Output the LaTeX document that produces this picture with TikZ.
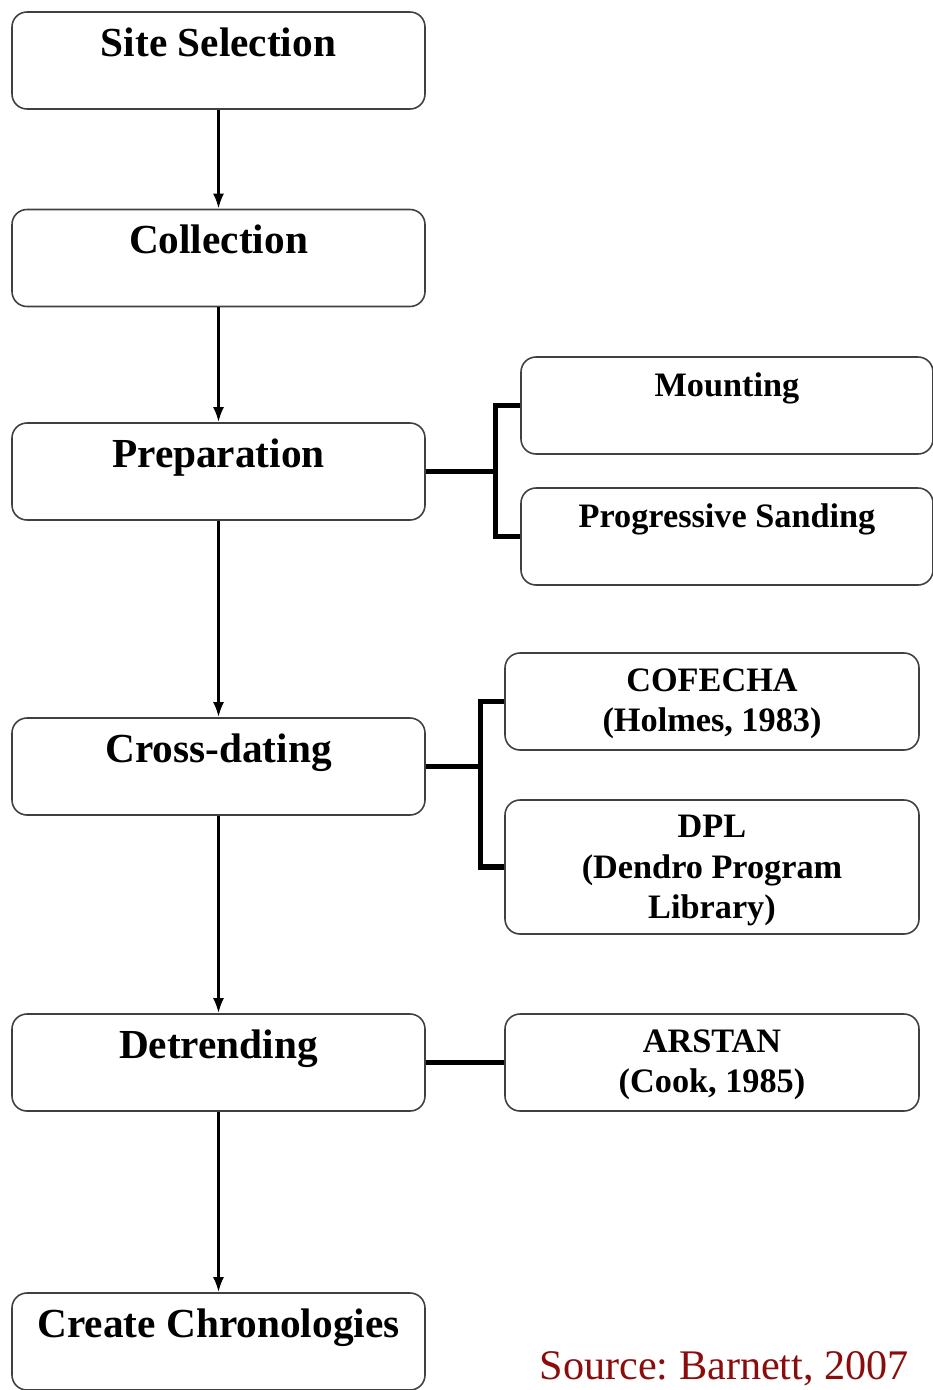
\documentclass[tikz,border=0pt]{standalone}
\usepackage{fontspec}
\setmainfont{Liberation Serif}
\usepackage{xcolor}
\usetikzlibrary{arrows.meta}
\definecolor{sourcered}{RGB}{140,12,12}
\frenchspacing

\begin{document}
\begin{tikzpicture}[
			stage/.style={draw=black!75, line width=0.9pt, rounded corners=0.3cm,
				minimum width=8.26cm, minimum height=1.94cm, inner sep=0pt},
			stagetext/.style={anchor=north, yshift=-0.2cm, font=\fontsize{23.5}{27}\selectfont\bfseries},
			tooltext/.style={anchor=north, yshift=-0.2cm, align=center, font=\fontsize{19.5}{23}\selectfont\bfseries},
			flow/.style={-{Latex[length=3mm, width=2.2mm]}, line width=1.5pt},
			branch/.style={line width=3pt}
		]
			\useasboundingbox (0,0) rectangle (18.66,-27.8);

			\node[stage, label={[stagetext]north:Site Selection}] (site) at (4.37,-1.21) {};
			\node[stage, label={[stagetext]north:Collection}] (coll) at (4.37,-5.16) {};
			\node[stage, label={[stagetext]north:Preparation}] (prep) at (4.37,-9.43) {};
			\node[stage, label={[stagetext]north:Cross-dating}] (cross) at (4.37,-15.33) {};
			\node[stage, label={[stagetext]north:Detrending}] (detr) at (4.37,-21.25) {};
			\node[stage, label={[stagetext]north:Create Chronologies}] (chron) at (4.37,-26.83) {};

			\node[stage, minimum width=8.24cm, label={[tooltext]north:Mounting}] (mount) at (14.54,-8.11) {};
			\node[stage, minimum width=8.24cm, label={[tooltext]north:Progressive Sanding}] (sand) at (14.54,-10.73) {};
			\node[stage, minimum width=8.28cm, label={[tooltext]north:{COFECHA\\(Holmes, 1983)}}] (cofecha) at (14.24,-14.03) {};
			\node[stage, minimum width=8.28cm, minimum height=2.68cm,
				label={[tooltext]north:{DPL\\(Dendro Program\\Library)}}] (dpl) at (14.24,-17.34) {};
			\node[stage, minimum width=8.28cm, label={[tooltext]north:{ARSTAN\\(Cook, 1985)}}] (arstan) at (14.24,-21.25) {};

			\draw[flow] (site.south) to (coll.north);
			\draw[flow] (coll.south) to (prep.north);
			\draw[flow] (prep.south) to (cross.north);
			\draw[flow] (cross.south) to (detr.north);
			\draw[flow] (detr.south) to (chron.north);

			\draw[branch] (prep.east) -- ++(1.4,0) coordinate (prepfork);
			\draw[branch] (mount.west) -| (prepfork) |- (sand.west);
			\draw[branch] (cross.east) -- ++(1.1,0) coordinate (crossfork);
			\draw[branch] (cofecha.west) -| (crossfork) |- (dpl.west);
			\draw[branch] (detr.east) to (arstan.west);

			\node[anchor=base east, text=sourcered, font=\fontsize{24}{28}\selectfont] (source) at (18.3,-27.58) {Source: Barnett, 2007};
		\end{tikzpicture}
\end{document}
